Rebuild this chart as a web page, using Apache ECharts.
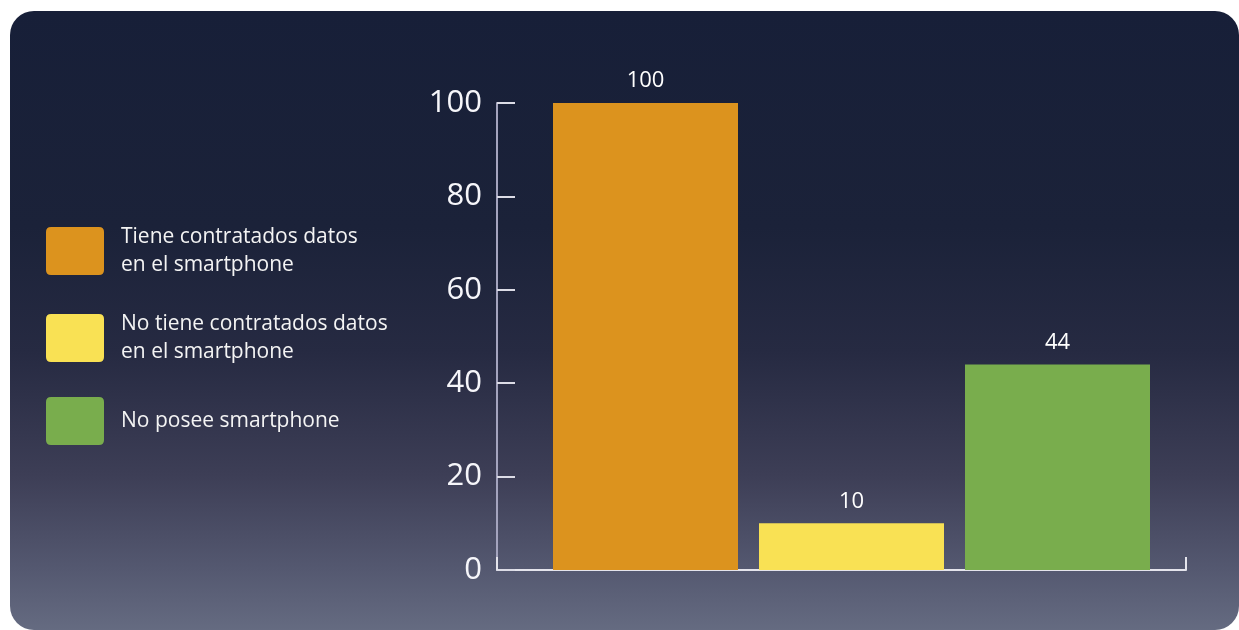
<!DOCTYPE html>
<html>
<head>
<meta charset="utf-8">
<script src="https://cdn.jsdelivr.net/npm/echarts@6/dist/echarts.min.js"></script>
<style>
  html, body { margin: 0; padding: 0; background: #ffffff; width: 1239px; height: 630px; overflow: hidden; }
  #card { position: absolute; left: 10px; top: 11px; width: 1229px; height: 619px; border-radius: 24px;
    background: linear-gradient(to bottom, #171f38 0%, #1b2239 35%, #262a42 55%, #3d3e56 75%, #545870 90%, #656b81 100%); }
  #chart { position: absolute; left: 0; top: 0; width: 1239px; height: 630px; }
</style>
</head>
<body>
<div id="card"></div>
<div id="chart"></div>
<script>
const categories = ['Tiene contratados datos\nen el smartphone', 'No tiene contratados datos\nen el smartphone', 'No posee smartphone'];
const values = [100, 10, 44];
const colors = ['#dc931e', '#f9e154', '#79ad4d'];
const yTicks = { min: 0, max: 100, interval: 20 };

const chart = echarts.init(document.getElementById('chart'), null, { renderer: 'canvas' });
const FONT = '"Open Sans", "Noto Sans", sans-serif';
const iconPath = 'path://M5,0 H53 Q58,0 58,5 V43 Q58,48 53,48 H5 Q0,48 0,43 V5 Q0,0 5,0 Z';

const series = categories.map((name, i) => ({
  name: name,
  type: 'bar',
  xAxisIndex: 1,
  yAxisIndex: 1,
  stack: 'all',
  barWidth: 185,
  itemStyle: { color: colors[i] },
  data: categories.map((c, j) => (j === i ? values[i] : '-')),
  label: { show: true, position: 'top', distance: 11, color: '#ffffff', fontSize: 22, fontFamily: FONT },
  emphasis: { disabled: true }
}));

chart.setOption({
  backgroundColor: 'transparent',
  animation: false,
  textStyle: { fontFamily: FONT },
  legend: {
    orient: 'vertical',
    left: 46,
    top: 223,
    padding: 0,
    itemWidth: 58,
    itemHeight: 48,
    itemGap: 31,
    icon: iconPath,
    selectedMode: false,
    data: categories,
    textStyle: { color: '#f4f4f4', fontSize: 21, lineHeight: 28, fontFamily: FONT, padding: [0, 0, 0, 12] }
  },
  grid: [
    { left: 497, right: 53, top: 103, bottom: 60, containLabel: false },
    { left: 542.5, right: 78.5, top: 103, bottom: 60, containLabel: false }
  ],
  xAxis: [
    { gridIndex: 0, type: 'value', min: 0, max: 1, interval: 1,
      axisLine: { show: true, lineStyle: { color: '#e4e4ec', width: 2 } },
      axisTick: { show: true, inside: true, length: 13, lineStyle: { color: '#e4e4ec', width: 2 } },
      axisLabel: { show: false }, splitLine: { show: false } },
    { gridIndex: 1, type: 'category', data: categories, show: false }
  ],
  yAxis: [
    { gridIndex: 0, type: 'value', min: yTicks.min, max: yTicks.max, interval: yTicks.interval,
      axisLine: { show: true, lineStyle: { color: '#a4a4be', width: 2 } },
      axisTick: { show: true, inside: true, length: 18, lineStyle: { color: '#dcdce6', width: 2 } },
      axisLabel: { show: true, margin: 15, color: '#f6f6fa', fontSize: 31, fontWeight: 'normal', fontFamily: FONT },
      splitLine: { show: false } },
    { gridIndex: 1, type: 'value', min: yTicks.min, max: yTicks.max, show: false }
  ],
  series: series
});
</script>
</body>
</html>
